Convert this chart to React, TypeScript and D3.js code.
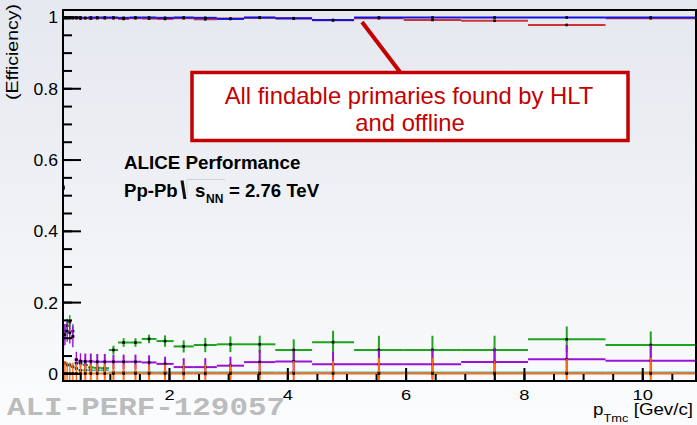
import React from 'react';
import * as d3 from 'd3';

// Transverse-momentum bin edges [GeV/c] (logarithmic binning)
const binEdges = [
  0.2, 0.215, 0.25, 0.291, 0.339, 0.394, 0.458, 0.533, 0.62, 0.72, 0.838, 0.975,
  1.13, 1.32, 1.53, 1.78, 2.07, 2.41, 2.8, 3.26, 3.79, 4.41, 5.12, 5.96, 6.93,
  8.06, 9.37, 10.9,
];

// Efficiency of findable primaries: HLT (blue) and offline (red)
const effHLT = [
  0.525, 1.0, 1.0, 1.0, 1.0, 1.0, 1.0, 0.999, 1.0, 1.0, 1.0, 1.0, 0.999, 1.0,
  1.0, 0.999, 1.0, 0.999, 0.996, 1.0, 0.998, 0.993, 1.0, 1.0, 1.0, 1.0, 1.0,
];
const effOffline = [
  0.52, 0.998, 0.998, 0.998, 0.998, 0.998, 0.997, 0.998, 0.997, 0.998, 0.998,
  0.998, 0.996, 0.998, 0.997, 0.996, 0.998, 0.995, 0.997, 0.999, 0.997, 0.992,
  0.998, 0.993, 0.991, 0.979, 0.998,
];

// Lower-level fractions with their statistical uncertainties
const fracGreen = [
  0.1, 0.12, 0.135, 0.145, 0.12, 0.03, 0.03, 0.025, 0.018, 0.017, 0.016, 0.067,
  0.088, 0.088, 0.098, 0.092, 0.077, 0.081, 0.083, 0.083, 0.067, 0.089, 0.067,
  0.067, 0.067, 0.097, 0.081,
];
const errGreen = [
  0.02, 0.02, 0.02, 0.02, 0.02, 0.01, 0.01, 0.01, 0.01, 0.01, 0.01, 0.012,
  0.012, 0.012, 0.012, 0.016, 0.017, 0.02, 0.022, 0.024, 0.03, 0.032, 0.04,
  0.04, 0.04, 0.036, 0.038,
];
const fracPurple = [
  0.1, 0.11, 0.12, 0.115, 0.105, 0.04, 0.036, 0.035, 0.035, 0.034, 0.034, 0.034,
  0.034, 0.034, 0.032, 0.028, 0.019, 0.019, 0.023, 0.033, 0.035, 0.027, 0.027,
  0.027, 0.033, 0.041, 0.037,
];
const errPurple = [
  0.03, 0.03, 0.03, 0.03, 0.03, 0.022, 0.022, 0.022, 0.022, 0.022, 0.022, 0.02,
  0.02, 0.02, 0.02, 0.02, 0.025, 0.025, 0.025, 0.034, 0.03, 0.035, 0.04, 0.04,
  0.039, 0.04, 0.044,
];
const fracCyan = [
  0.03, 0.03, 0.025, 0.025, 0.02, 0.015, 0.01, 0.01, 0.01, 0.01, 0.01, 0.004,
  0.004, 0.004, 0.004, 0.004, 0.004, 0.004, 0.004, 0.004, 0.004, 0.004, 0.004,
  0.004, 0.004, 0.004, 0.004,
];
const errCyan = [
  0.006, 0.006, 0.006, 0.006, 0.005, 0.005, 0.004, 0.004, 0.004, 0.004, 0.004,
  0.003, 0.003, 0.003, 0.003, 0.003, 0.003, 0.003, 0.003, 0.003, 0.003, 0.003,
  0.003, 0.003, 0.003, 0.003, 0.003,
];
const fracOrange = [
  0.001, 0.001, 0.001, 0.001, 0.001, 0.001, 0.001, 0.001, 0.001, 0.001, 0.001,
  0.001, 0.001, 0.001, 0.001, 0.001, 0.001, 0.001, 0.001, 0.001, 0.001, 0.001,
  0.001, 0.001, 0.001, 0.001, 0.001,
];
const errOrange = [
  0.035, 0.035, 0.032, 0.03, 0.03, 0.026, 0.026, 0.026, 0.026, 0.026, 0.026,
  0.025, 0.025, 0.025, 0.025, 0.025, 0.025, 0.025, 0.025, 0.03, 0.035, 0.035,
  0.044, 0.044, 0.035, 0.041, 0.044,
];

const yMajorTicks = [0, 0.2, 0.4, 0.6, 0.8, 1];
const yTickLabels = ['0', '0.2', '0.4', '0.6', '0.8', '1'];
const xMajorTicks = [2, 4, 6, 8, 10];
const xTickLabels = ['2', '4', '6', '8', '10'];

const W = 697;
const H = 425;
const F = { left: 63, right: 696, top: 10, bottom: 381 };

const x = d3.scaleLinear().domain([0.2, 10.9]).range([F.left, F.right]);
const y = d3.scaleLinear().domain([-0.02, 1.021]).range([F.bottom, F.top]);

const SANS = 'Arial, "Liberation Sans", Helvetica, sans-serif';

type SeriesProps = { vals: number[]; errs?: number[]; color: string };

function HistSeries({ vals, errs, color }: SeriesProps) {
  return (
    <g>
      {vals.map((v, i) => {
        const lo = binEdges[i];
        const hi = binEdges[i + 1];
        const c = (lo + hi) / 2;
        const e = errs ? errs[i] : 0;
        const w = x(hi) - x(lo) < 5 ? 1.4 : 2;
        return (
          <g key={i}>
            <line x1={x(lo)} x2={x(hi)} y1={y(v)} y2={y(v)} stroke={color} strokeWidth={2} />
            {e > 0 && (
              <line x1={x(c)} x2={x(c)} y1={y(v - e)} y2={y(v + e)} stroke={color} strokeWidth={w} />
            )}
            <rect x={x(c) - 1.3} y={y(v) - 1.3} width={2.6} height={2.6} fill="#000" />
          </g>
        );
      })}
    </g>
  );
}

function SText(props: {
  x: number;
  y: number;
  sx?: number;
  rot?: number;
  anchor?: string;
  size: number;
  weight?: string;
  fill?: string;
  family?: string;
  children: React.ReactNode;
}) {
  const { sx = 1, rot = 0, anchor = 'start', size, weight = 'normal', fill = '#000', family = SANS } = props;
  return (
    <text
      transform={`translate(${props.x},${props.y}) rotate(${rot}) scale(${sx},1)`}
      textAnchor={anchor}
      fontSize={size}
      fontWeight={weight}
      fill={fill}
      fontFamily={family}
    >
      {props.children}
    </text>
  );
}

export default function App() {
  const yMinor = d3.range(0, 1.0001, 0.05);
  const xMinor = d3.range(0.5, 10.9, 0.5);
  return (
    <svg
      width={W}
      height={H}
      viewBox={`0 0 ${W} ${H}`}
      style={{ position: 'absolute', left: 0, top: 0, display: 'block' }}
    >
      <defs>
        <linearGradient id="bg" x1="0" y1="0" x2="0" y2="1">
          <stop offset="0" stopColor="#e5e8ef" />
          <stop offset="0.5" stopColor="#eff1f5" />
          <stop offset="1" stopColor="#fbfcfd" />
        </linearGradient>
        <clipPath id="plot">
          <rect x={F.left} y={F.top} width={F.right - F.left} height={F.bottom - F.top} />
        </clipPath>
      </defs>
      <rect x={0} y={0} width={W} height={H} fill="url(#bg)" />

      {/* data */}
      <g clipPath="url(#plot)">
        <HistSeries vals={fracGreen} errs={errGreen} color="#1ea51e" />
        <HistSeries vals={fracPurple} errs={errPurple} color="#9a12d6" />
        <HistSeries vals={fracCyan} errs={errCyan} color="#3cbcbc" />
        <HistSeries vals={fracOrange} errs={errOrange} color="#ff6a14" />
        <HistSeries vals={effOffline} color="#cf3434" />
        <HistSeries vals={effHLT} color="#1414e0" />
      </g>

      {/* frame and ticks */}
      <rect
        x={F.left}
        y={F.top}
        width={F.right - F.left}
        height={F.bottom - F.top}
        fill="none"
        stroke="#000"
        strokeWidth={2}
      />
      {yMinor.map((t) => (
        <line key={'ym' + t} x1={F.left} x2={F.left + 9} y1={y(t)} y2={y(t)} stroke="#000" strokeWidth={2} />
      ))}
      {yMajorTicks.map((t) => (
        <line key={'yM' + t} x1={F.left} x2={F.left + 18} y1={y(t)} y2={y(t)} stroke="#000" strokeWidth={2} />
      ))}
      {xMinor.map((t) => (
        <line key={'xm' + t} x1={x(t)} x2={x(t)} y1={F.bottom} y2={F.bottom - 7} stroke="#000" strokeWidth={2} />
      ))}
      {xMajorTicks.map((t) => (
        <line key={'xM' + t} x1={x(t)} x2={x(t)} y1={F.bottom} y2={F.bottom - 13} stroke="#000" strokeWidth={2} />
      ))}

      {/* tick labels */}
      {yMajorTicks.map((t, i) => (
        <SText key={'yl' + t} x={58} y={y(t) + 6} sx={1.1} anchor="end" size={16}>
          {yTickLabels[i]}
        </SText>
      ))}
      {xMajorTicks.map((t, i) => (
        <SText key={'xl' + t} x={x(t)} y={400} sx={1.18} anchor="middle" size={15.5}>
          {xTickLabels[i]}
        </SText>
      ))}

      {/* axis titles */}
      <SText x={18} y={4} rot={-90} sx={1.22} anchor="end" size={16}>
        (Efficiency)
      </SText>
      <text
        transform="translate(693,415) scale(1.17,1)"
        textAnchor="end"
        fontSize={16}
        fontFamily={SANS}
        fill="#000"
      >
        p
        <tspan fontSize={11} dy={6.5}>Tmc</tspan>
        <tspan dy={-6.5}> [Gev/c]</tspan>
      </text>

      {/* performance label */}
      <SText x={124} y={169} size={18.8} weight="bold">
        ALICE Performance
      </SText>
      <SText x={124} y={197} size={18.6} weight="bold">
        Pp-Pb
      </SText>
      <path d="M180.5,180.5 L183.6,180.5 L186.4,199 L183.4,199 Z" fill="#111" />
      <line x1={187} x2={225} y1={179.5} y2={179.5} stroke="#d0d0d0" strokeWidth={1} />
      <line x1={187} x2={187} y1={179.5} y2={196} stroke="#dcdcdc" strokeWidth={1} />
      <SText x={195} y={197} size={18.6} weight="bold">
        s
      </SText>
      <SText x={206} y={203} size={12} weight="bold">
        NN
      </SText>
      <SText x={229} y={197} size={18.6} weight="bold">
        = 2.76 TeV
      </SText>

      {/* annotation */}
      <line x1={362} y1={22} x2={400} y2={72} stroke="#c40000" strokeWidth={4} />
      <rect x={192} y={72.5} width={436} height={68} fill="#ffffff" stroke="#c40000" strokeWidth={3.5} />
      <SText x={409} y={104} anchor="middle" size={23.8} fill="#c40000">
        All findable primaries found by HLT
      </SText>
      <SText x={410} y={131} anchor="middle" size={23.8} fill="#c40000">
        and offline
      </SText>

      {/* figure id */}
      <text
        x={7}
        y={415}
        fontSize={25}
        fontWeight="bold"
        fontFamily='"Liberation Mono", "Courier New", monospace'
        fill="#bcbcbc"
        textLength={278}
        lengthAdjust="spacingAndGlyphs"
      >
        ALI-PERF-129057
      </text>
    </svg>
  );
}
